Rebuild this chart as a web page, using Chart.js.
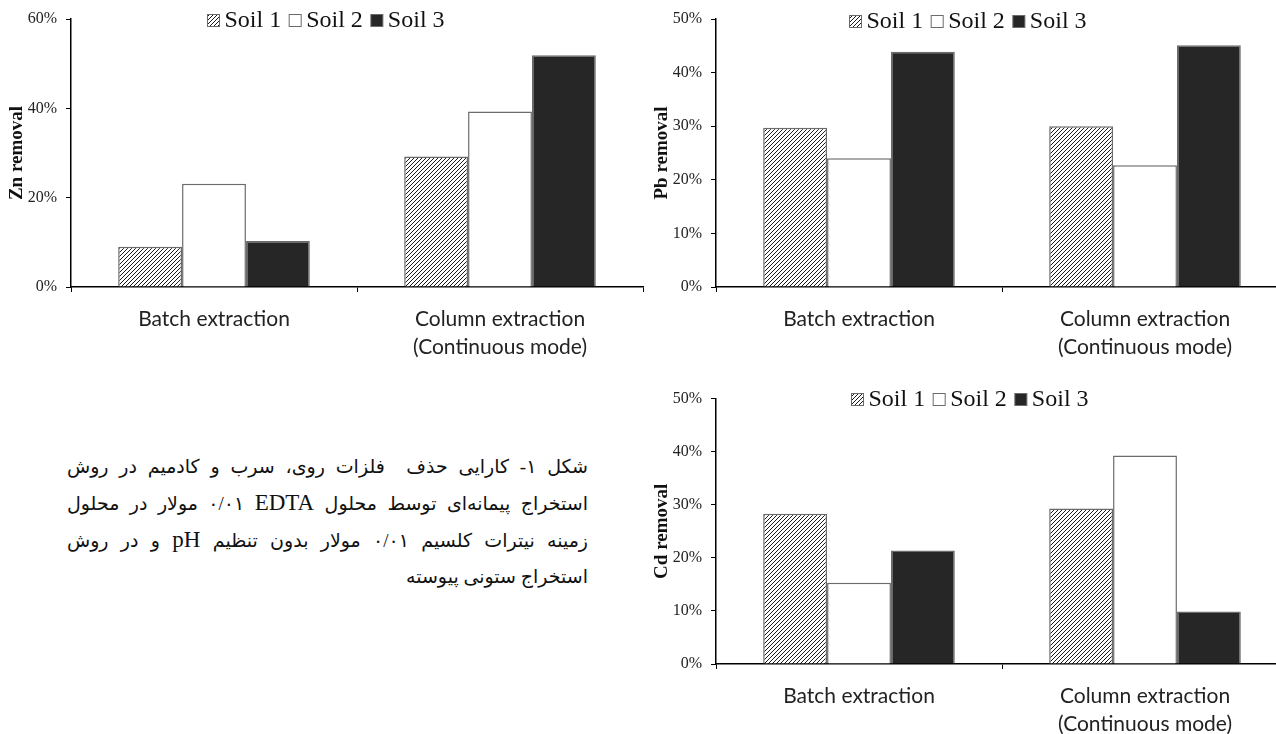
<!DOCTYPE html>
<html>
<head>
<meta charset="utf-8">
<script src="https://cdn.jsdelivr.net/npm/chart.js@4.4.0/dist/chart.umd.min.js"></script>
<style>
  body { margin: 0; background: #fff; width: 1276px; height: 734px; position: relative; overflow: hidden; }
  canvas { position: absolute; }
  #zn { left: 0; top: 0; }
  #pb { left: 640px; top: 0; }
  #cd { left: 640px; top: 380px; }
  #caption {
    position: absolute; left: 67px; top: 449px; width: 521px;
    direction: rtl; color: #111;
    font-family: "Liberation Serif", "DejaVu Sans", serif;
    font-size: 19px; line-height: 36px;
  }
  #caption div { white-space: nowrap; text-align: justify; text-align-last: justify; }
  #caption div.last { text-align-last: right; }
  #caption .lat { font-size: 23px; }
</style>
</head>
<body>
<canvas id="zn" width="645" height="365"></canvas>
<canvas id="pb" width="660" height="365"></canvas>
<canvas id="cd" width="660" height="354"></canvas>
<div id="caption">
  <div>شکل ۱- کارایی حذف&nbsp; فلزات روی، سرب و کادمیم در روش</div>
  <div>استخراج پیمانه‌ای توسط محلول <span class="lat">EDTA</span>&#x200F; ۰/۰۱ مولار در محلول</div>
  <div>زمینه نیترات کلسیم ۰/۰۱ مولار بدون تنظیم <span class="lat">pH</span> و در روش</div>
  <div class="last">استخراج ستونی پیوسته</div>
</div>
<script>
// categories and series
const categories = ['Batch extraction', ['Column extraction', '(Continuous mode)']];
const soils = ['Soil 1', 'Soil 2', 'Soil 3'];

// values in %
const znSoil1 = [9.0, 29.2];
const znSoil2 = [23.1, 39.3];
const znSoil3 = [10.3, 51.9];

const pbSoil1 = [29.7, 30.0];
const pbSoil2 = [24.0, 22.7];
const pbSoil3 = [43.9, 45.1];

const cdSoil1 = [28.3, 29.3];
const cdSoil2 = [15.3, 39.3];
const cdSoil3 = [21.4, 9.9];

// y tick values
const znTicks = [0, 20, 40, 60];
const pbTicks = [0, 10, 20, 30, 40, 50];
const cdTicks = [0, 10, 20, 30, 40, 50];

const hatchPattern = (() => {
    const c = document.createElement('canvas');
    c.width = 4; c.height = 4;
    const g = c.getContext('2d');
    g.fillStyle = '#fff';
    g.fillRect(0, 0, 4, 4);
    g.strokeStyle = '#000';
    g.lineWidth = 0.9;
    g.beginPath();
    g.moveTo(0, 4); g.lineTo(4, 0);
    g.moveTo(-1, 1); g.lineTo(1, -1);
    g.moveTo(3, 5); g.lineTo(5, 3);
    g.stroke();
    return g.createPattern(c, 'repeat');
})();

const fills = [hatchPattern, '#ffffff', '#262626'];
const edge = '#6b6b6b';

// legend drawn from the datasets, placed like the original
const soilLegend = {
    id: 'soilLegend',
    afterDraw(chart, args, o) {
        const ctx = chart.ctx;
        ctx.save();
        ctx.font = o.font;
        ctx.textBaseline = 'middle';
        const sets = chart.data.datasets;
        const widths = sets.map(d => o.box + o.gap + ctx.measureText(d.label).width);
        const total = widths.reduce((a, b) => a + b, 0) + o.spacing * (sets.length - 1);
        let x = Math.round(o.cx - total / 2) + 0.5;
        sets.forEach((d, i) => {
            const top = Math.round(o.y - o.box / 2) + 0.5;
            ctx.fillStyle = d.backgroundColor;
            ctx.fillRect(x, top, o.box, o.box);
            ctx.strokeStyle = d.borderColor;
            ctx.lineWidth = 1;
            ctx.strokeRect(x, top, o.box, o.box);
            ctx.fillStyle = '#111';
            ctx.fillText(d.label, x + o.box + o.gap, o.y + 1);
            x += widths[i] + o.spacing;
        });
        ctx.restore();
    }
};

function makeChart(id, metal, values, ticks, cfg) {
    const datasets = soils.map((s, i) => ({
        label: s,
        data: values[i],
        backgroundColor: fills[i],
        borderColor: edge,
        borderWidth: 1.5,
        borderSkipped: 'bottom',
        barPercentage: 1.0,
        categoryPercentage: 0.67
    }));

    return new Chart(document.getElementById(id), {
        type: 'bar',
        data: { labels: categories, datasets: datasets },
        plugins: [soilLegend],
        options: {
            responsive: false,
            animation: false,
            devicePixelRatio: 1,
            layout: { padding: { top: cfg.top, right: cfg.right, left: 0, bottom: 0 } },
            plugins: {
                legend: { display: false },
                tooltip: { enabled: false },
                soilLegend: cfg.legend
            },
            scales: {
                x: {
                    afterFit: (s) => { s.height = cfg.xHeight; },
                    grid: { offset: true, drawOnChartArea: false, drawTicks: true, tickLength: 5, color: '#000', lineWidth: 1 },
                    border: { color: '#000', width: 1.5 },
                    ticks: {
                        color: '#222',
                        padding: 14,
                        maxRotation: 0,
                        font: { family: 'Lato', size: 21, lineHeight: 1.3 }
                    }
                },
                y: {
                    min: ticks[0],
                    max: ticks[ticks.length - 1],
                    afterFit: (s) => { s.width = cfg.yWidth; },
                    grid: { drawOnChartArea: false, drawTicks: true, tickLength: 5, color: '#000', lineWidth: 1 },
                    border: { color: '#000', width: 1.5 },
                    ticks: {
                        stepSize: ticks[1] - ticks[0],
                        color: '#222',
                        padding: 9,
                        font: { family: 'Liberation Serif', size: 16 },
                        callback: (v) => v + '%'
                    },
                    title: {
                        display: true,
                        text: metal + ' removal',
                        color: '#111',
                        padding: { top: cfg.titlePad, bottom: 0 },
                        font: { family: 'Liberation Serif', size: 19, weight: 'bold', lineHeight: 1.2 }
                    }
                }
            }
        }
    });
}

const legendFont = '24px "Liberation Serif"';

makeChart('zn', 'Zn', [znSoil1, znSoil2, znSoil3], znTicks, {
    top: 19, right: 2, xHeight: 78, yWidth: 71, titlePad: 6,
    legend: { cx: 326, y: 20, font: legendFont, box: 12, gap: 5, spacing: 8 }
});

makeChart('pb', 'Pb', [pbSoil1, pbSoil2, pbSoil3], pbTicks, {
    top: 19, right: 12, xHeight: 78, yWidth: 76, titlePad: 11,
    legend: { cx: 328, y: 21, font: legendFont, box: 12, gap: 5, spacing: 8 }
});

makeChart('cd', 'Cd', [cdSoil1, cdSoil2, cdSoil3], cdTicks, {
    top: 18, right: 12, xHeight: 70, yWidth: 76, titlePad: 11,
    legend: { cx: 330, y: 19, font: legendFont, box: 12, gap: 5, spacing: 8 }
});
</script>
</body>
</html>
